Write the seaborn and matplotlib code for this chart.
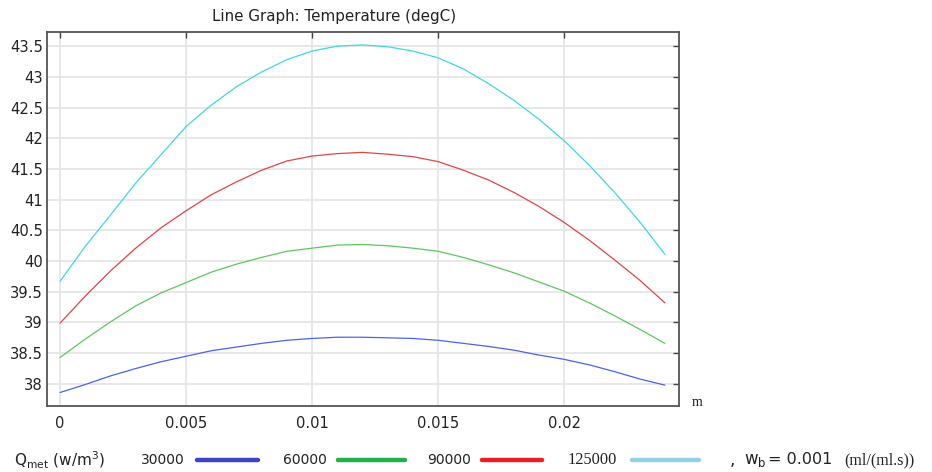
import matplotlib
matplotlib.use("Agg")
import matplotlib.pyplot as plt
import seaborn as sns
import pandas as pd
from matplotlib.lines import Line2D

# ---- data (x in m, T in degC) ----
x_m = [0.000, 0.001, 0.002, 0.003, 0.004, 0.005, 0.006, 0.007, 0.008, 0.009, 0.010, 0.011,
       0.012, 0.013, 0.014, 0.015, 0.016, 0.017, 0.018, 0.019, 0.020, 0.021, 0.022, 0.023, 0.024]
t_30000 = [37.86, 37.99, 38.13, 38.25, 38.36, 38.45, 38.54, 38.60, 38.66, 38.71, 38.74, 38.76,
           38.76, 38.75, 38.74, 38.71, 38.66, 38.61, 38.55, 38.47, 38.40, 38.31, 38.20, 38.08, 37.98]
t_60000 = [38.43, 38.73, 39.01, 39.27, 39.48, 39.65, 39.82, 39.95, 40.06, 40.16, 40.21, 40.26,
           40.27, 40.25, 40.21, 40.16, 40.06, 39.94, 39.81, 39.66, 39.51, 39.32, 39.11, 38.89, 38.66]
t_90000 = [38.99, 39.43, 39.84, 40.21, 40.54, 40.82, 41.08, 41.29, 41.48, 41.63, 41.71, 41.75,
           41.77, 41.74, 41.70, 41.62, 41.48, 41.32, 41.12, 40.89, 40.63, 40.34, 40.02, 39.69, 39.32]
t_125000 = [39.67, 40.24, 40.75, 41.27, 41.73, 42.19, 42.54, 42.84, 43.08, 43.28, 43.42, 43.50,
            43.52, 43.49, 43.42, 43.31, 43.13, 42.89, 42.62, 42.31, 41.96, 41.56, 41.12, 40.64, 40.11]
q_labels = ["30000", "60000", "90000", "125000"]
x_ticks = [0, 0.005, 0.01, 0.015, 0.02]
x_tick_labels = ["0", "0.005", "0.01", "0.015", "0.02"]
y_ticks = [38, 38.5, 39, 39.5, 40, 40.5, 41, 41.5, 42, 42.5, 43, 43.5]
y_tick_labels = ["38", "38.5", "39", "39.5", "40", "40.5", "41", "41.5", "42", "42.5", "43", "43.5"]

line_colors = {"30000": "#4a62f0", "60000": "#5cc85c", "90000": "#e04646", "125000": "#3ed8e2"}
legend_colors = ["#3b46c6", "#22b04a", "#e81e26", "#92d2e6"]

frames = []
for q, t in zip(q_labels, [t_30000, t_60000, t_90000, t_125000]):
    frames.append(pd.DataFrame({"x": x_m, "T": t, "Q": q}))
df = pd.concat(frames, ignore_index=True)

sns.set_theme(style="white")
plt.rcParams["font.family"] = ["DejaVu Sans"]

fig = plt.figure(figsize=(9.32, 4.72), dpi=100)
ax = fig.add_axes([47 / 932, 1 - 406 / 472, (679 - 47) / 932, (406 - 32) / 472])

sns.lineplot(data=df, x="x", y="T", hue="Q", palette=line_colors, ax=ax,
             legend=False, linewidth=0.9, sort=True)

ax.set_xlim(-0.00052, 0.02456)
ax.set_ylim(37.64, 43.73)
ax.set_xticks(x_ticks)
ax.set_xticklabels(x_tick_labels)
ax.set_yticks(y_ticks)
ax.set_yticklabels(y_tick_labels)
ax.set_xlabel("")
ax.set_ylabel("")
ax.grid(True, color="#e6e6e6", linewidth=1.3)
ax.set_axisbelow(True)
for s in ax.spines.values():
    s.set_visible(True)
    s.set_color("#555555")
    s.set_linewidth(1.3)
ax.tick_params(axis="both", direction="in", length=4, width=1, color="#444444",
               labelsize=10.6, labelcolor="#222222", top=True, right=True,
               labeltop=False, labelright=False)
ax.tick_params(axis="x", pad=7)
ax.tick_params(axis="y", pad=3)

fig.text(334 / 932, 1 - 17 / 472, "Line Graph: Temperature (degC)", ha="center", va="center",
         fontsize=10.9, color="#222222")
fig.text(692 / 932, 1 - 403 / 472, "m", ha="left", va="center", fontsize=10,
         family="Liberation Serif", color="#222222")

# ---- custom legend row ----
ly = 1 - 460 / 472
fig.text(14 / 932, ly, r"Q$_{\mathregular{met}}$ (w/m$^3$)", ha="left", va="center",
         fontsize=11, color="#222222")
label_x = [141, 283, 427, 568]
line_x = [(197, 258), (338, 405), (482, 542), (632, 699)]
label_fonts = ["DejaVu Sans", "DejaVu Sans", "DejaVu Sans", "Liberation Serif"]
label_sizes = [10, 10, 10, 11.8]
for lab, lx, (x0, x1), c, fam, fs in zip(q_labels, label_x, line_x, legend_colors, label_fonts, label_sizes):
    fig.text(lx / 932, ly, lab, ha="left", va="center", fontsize=fs, family=fam, color="#222222")
    fig.add_artist(Line2D([x0 / 932, x1 / 932], [ly, ly], transform=fig.transFigure,
                          color=c, linewidth=3.2, solid_capstyle="round"))
fig.text(730 / 932, ly, ",", ha="left", va="center", fontsize=12, color="#222222")
fig.text(744 / 932, ly, r"w$_{\mathregular{b}}$", ha="left", va="center", fontsize=12, color="#222222")
fig.text(768 / 932, ly, "= 0.001", ha="left", va="center", fontsize=11.5, color="#222222")
fig.text(844 / 932, ly, "(ml/(ml.s))", ha="left", va="center", fontsize=11.6,
         family="Liberation Serif", color="#222222")

fig.savefig("out.png", dpi=100)
